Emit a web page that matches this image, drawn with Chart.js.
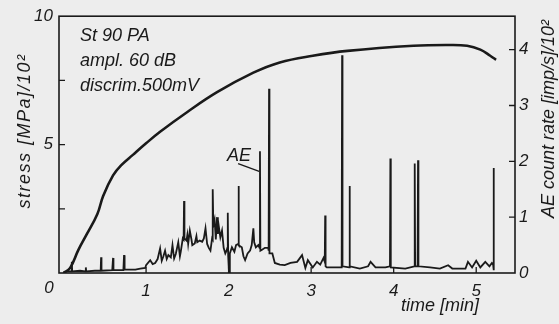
<!DOCTYPE html>
<html>
<head>
<meta charset="utf-8">
<script src="https://cdn.jsdelivr.net/npm/chart.js@4.4.1/dist/chart.umd.min.js"></script>
<style>
  html, body { margin: 0; padding: 0; background: #ededed; }
  #wrap { width: 559px; height: 324px; position: relative; }
</style>
</head>
<body>
<div id="wrap"><canvas id="aeChart"></canvas></div>
<script>
  // axis ticks
  const timeTicks = [1, 2, 3, 4, 5];
  const stressTicks = [5, 10];
  const stressMinorTicks = [2.5, 5, 7.5];
  const aeTicks = [0, 1, 2, 3, 4];

  // stress [MPa]/10^2 vs time [min]
  const stressTrace = [
    [0.0, 0.0], [0.08, 0.2], [0.18, 0.9], [0.28, 1.5], [0.41, 2.3], [0.48, 3.0],
    [0.6, 3.8], [0.7, 4.2], [0.84, 4.6], [1.0, 5.05], [1.17, 5.5], [1.5, 6.27],
    [1.86, 7.04], [2.3, 7.8], [2.62, 8.2], [3.02, 8.46], [3.44, 8.65], [4.24, 8.85],
    [4.65, 8.88], [4.89, 8.85], [5.05, 8.7], [5.17, 8.46], [5.24, 8.3]
  ];

  // AE count rate [imp/s]/10^2 vs time [min]
  const aeTrace = [
    [0.00, 0.02], [0.05, 0.03],
    [0.095, 0.03], [0.10, 0.20], [0.105, 0.03],
    [0.20, 0.04],
    [0.265, 0.03], [0.27, 0.10], [0.275, 0.03],
    [0.38, 0.04],
    [0.45, 0.04], [0.455, 0.28], [0.46, 0.04],
    [0.59, 0.05], [0.60, 0.27], [0.605, 0.05],
    [0.725, 0.05], [0.733, 0.32], [0.74, 0.06],
    [0.87, 0.06], [0.93, 0.08], [0.99, 0.09], [1.00, 0.14],
    [1.05, 0.23], [1.08, 0.16], [1.11, 0.18], [1.14, 0.25], [1.17, 0.44], [1.19, 0.22],
    [1.21, 0.30], [1.23, 0.40], [1.25, 0.25], [1.27, 0.32], [1.30, 0.28], [1.32, 0.50],
    [1.34, 0.26], [1.36, 0.34], [1.39, 0.55], [1.41, 0.30], [1.42, 0.38], [1.445, 0.62],
    [1.455, 0.60], [1.46, 1.29], [1.465, 0.62],
    [1.49, 0.58], [1.50, 0.68], [1.51, 0.52], [1.53, 0.76], [1.55, 0.60], [1.56, 0.50],
    [1.59, 0.53], [1.61, 0.66], [1.62, 0.55], [1.65, 0.58], [1.68, 0.56], [1.70, 0.62],
    [1.72, 0.80], [1.74, 0.52], [1.76, 0.45], [1.78, 0.40], [1.80, 0.62],
    [1.805, 0.60], [1.81, 1.50], [1.815, 0.85],
    [1.83, 0.95], [1.845, 0.60], [1.86, 1.00], [1.87, 0.70], [1.88, 0.85], [1.90, 0.64],
    [1.92, 0.76], [1.94, 0.45], [1.96, 0.35], [1.975, 0.40],
    [1.985, 0.45], [1.99, 1.08], [1.995, 0.30], [2.005, 0.00], [2.015, 0.35],
    [2.04, 0.46], [2.07, 0.38], [2.09, 0.50], [2.115, 0.52], [2.12, 1.56], [2.125, 0.50],
    [2.14, 0.48], [2.16, 0.46], [2.18, 0.30], [2.20, 0.23], [2.23, 0.35], [2.26, 0.40],
    [2.28, 0.50], [2.30, 0.80], [2.31, 0.55], [2.33, 0.46], [2.36, 0.50],
    [2.375, 0.45], [2.38, 2.18], [2.385, 0.40],
    [2.41, 0.42], [2.44, 0.45], [2.48, 0.45], [2.485, 0.40], [2.49, 3.30], [2.495, 0.35],
    [2.53, 0.35], [2.56, 0.18], [2.62, 0.15], [2.68, 0.14], [2.75, 0.18], [2.83, 0.20],
    [2.89, 0.32], [2.93, 0.09], [2.96, 0.23], [3.02, 0.10], [3.07, 0.20], [3.11, 0.15],
    [3.15, 0.27],
    [3.165, 0.20], [3.17, 1.03], [3.175, 0.12],
    [3.19, 0.10], [3.29, 0.10],
    [3.37, 0.10], [3.375, 3.90], [3.38, 0.12],
    [3.46, 0.10], [3.465, 1.56], [3.47, 0.12],
    [3.59, 0.08], [3.69, 0.12], [3.72, 0.20], [3.78, 0.10], [3.90, 0.10],
    [3.955, 0.12], [3.96, 2.05], [3.965, 0.10],
    [4.14, 0.08],
    [4.25, 0.12], [4.255, 1.96], [4.26, 0.12], [4.29, 0.12], [4.295, 2.02], [4.30, 0.12],
    [4.44, 0.10], [4.56, 0.08], [4.66, 0.14], [4.71, 0.08], [4.87, 0.08], [4.90, 0.20],
    [4.95, 0.10], [5.00, 0.22], [5.05, 0.10], [5.11, 0.20], [5.16, 0.12], [5.19, 0.18],
    [5.205, 0.15], [5.21, 1.88], [5.215, 0.05]
  ];

  const notes = ["St 90 PA", "ampl. 60 dB", "discrim.500mV"];

  const ink = "#1a1a1a";
  const paper = "#ededed";
  const fontFamily = "'Liberation Sans', Arial, sans-serif";
  const tickFont = { family: fontFamily, size: 17, style: "italic" };

  const toPoints = (rows) => rows.map((r) => ({ x: r[0], y: r[1] }));

  const overlay = {
    id: "overlay",
    beforeDraw(chart) {
      const ctx = chart.ctx;
      ctx.save();
      ctx.fillStyle = paper;
      ctx.fillRect(0, 0, chart.width, chart.height);
      ctx.restore();
    },
    afterDatasetsDraw(chart) {
      const { ctx, chartArea: a, scales } = chart;
      const x = scales.x, yL = scales.yStress, yR = scales.yAE;
      ctx.save();
      ctx.strokeStyle = ink;
      ctx.fillStyle = ink;
      ctx.lineWidth = 1.6;
      ctx.strokeRect(a.left, a.top, a.right - a.left, a.bottom - a.top);

      // inward tick marks
      ctx.lineWidth = 1.3;
      ctx.beginPath();
      stressMinorTicks.forEach((v) => {
        const p = yL.getPixelForValue(v);
        ctx.moveTo(a.left, p); ctx.lineTo(a.left + 6, p);
      });
      aeTicks.slice(1).forEach((v) => {
        const p = yR.getPixelForValue(v);
        ctx.moveTo(a.right, p); ctx.lineTo(a.right - 6, p);
      });
      timeTicks.forEach((v) => {
        const p = x.getPixelForValue(v);
        ctx.moveTo(p, a.bottom); ctx.lineTo(p, a.bottom - 6);
      });
      ctx.stroke();

      // AE leader line
      ctx.beginPath();
      ctx.moveTo(x.getPixelForValue(2.115), yR.getPixelForValue(1.96));
      ctx.lineTo(x.getPixelForValue(2.37), yR.getPixelForValue(1.82));
      ctx.stroke();

      ctx.font = "italic 18px " + fontFamily;
      ctx.textBaseline = "alphabetic";
      ctx.textAlign = "left";
      notes.forEach((t, i) => ctx.fillText(t, a.left + 21, a.top + 25 + i * 25));
      ctx.fillText("AE", x.getPixelForValue(1.98), yR.getPixelForValue(2.0));

      // corner zero
      ctx.font = "italic 17px " + fontFamily;
      ctx.textAlign = "center";
      ctx.textBaseline = "middle";
      ctx.fillText("0", a.left - 10, a.bottom + 15);

      // axis titles
      ctx.font = "italic 18px " + fontFamily;
      ctx.fillText("time [min]", 440, 306);

      ctx.save();
      ctx.translate(25, 131);
      ctx.rotate(-Math.PI / 2);
      ctx.letterSpacing = "1.5px";
      ctx.fillText("stress [MPa]/10²", 0, 0);
      ctx.restore();

      ctx.save();
      ctx.translate(549, 119);
      ctx.rotate(-Math.PI / 2);
      ctx.fillText("AE count rate [imp/s]/10²", 0, 0);
      ctx.restore();

      ctx.restore();
    },
  };

  new Chart(document.getElementById("aeChart"), {
    type: "line",
    data: {
      datasets: [
        {
          label: "stress",
          data: toPoints(stressTrace),
          yAxisID: "yStress",
          borderColor: ink,
          borderWidth: 2.6,
          pointRadius: 0,
          tension: 0.4,
          fill: false,
        },
        {
          label: "AE",
          data: toPoints(aeTrace),
          yAxisID: "yAE",
          borderColor: ink,
          borderWidth: 1.8,
          pointRadius: 0,
          tension: 0,
          fill: false,
        },
      ],
    },
    options: {
      responsive: true,
      maintainAspectRatio: false,
      animation: false,
      layout: { padding: { top: 13, left: 0, right: 0, bottom: 0 } },
      plugins: { legend: { display: false }, tooltip: { enabled: false } },
      scales: {
        x: {
          type: "linear",
          min: -0.055,
          max: 5.47,
          grid: { display: false, drawTicks: false },
          border: { display: false },
          afterBuildTicks: (s) => { s.ticks = timeTicks.map((v) => ({ value: v })); },
          afterFit: (s) => { s.height = 51; },
          ticks: { color: ink, font: tickFont, padding: 8, maxRotation: 0 },
        },
        yStress: {
          position: "left",
          min: 0,
          max: 10,
          grid: { display: false, drawTicks: false },
          border: { display: false },
          afterBuildTicks: (s) => { s.ticks = stressTicks.map((v) => ({ value: v })); },
          afterFit: (s) => { s.width = 59; },
          ticks: { color: ink, font: tickFont, padding: 6 },
        },
        yAE: {
          position: "right",
          min: 0,
          max: 4.6,
          grid: { display: false, drawTicks: false },
          border: { display: false },
          afterBuildTicks: (s) => { s.ticks = aeTicks.map((v) => ({ value: v })); },
          afterFit: (s) => { s.width = 44; },
          ticks: { color: ink, font: tickFont, padding: 4 },
        },
      },
    },
    plugins: [overlay],
  });
</script>
</body>
</html>
